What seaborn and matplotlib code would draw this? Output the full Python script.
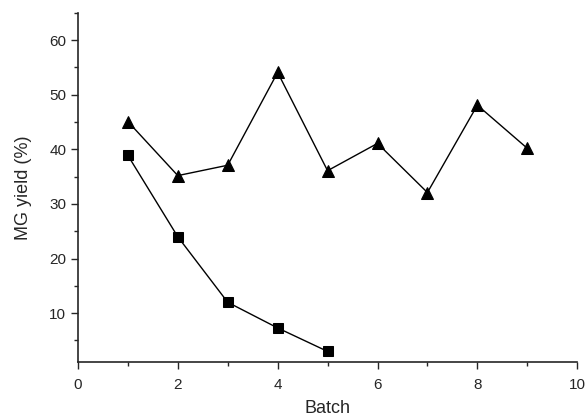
import numpy as np
import pandas as pd
import matplotlib
matplotlib.use('Agg')
import matplotlib.pyplot as plt
from matplotlib.ticker import MultipleLocator
import seaborn as sns

# data
batch_tri = [1, 2, 3, 4, 5, 6, 7, 8, 9]
yield_tri = [45.1, 35.2, 37.1, 54.1, 36.1, 41.1, 32.1, 48.1, 40.2]
batch_sq = [1, 2, 3, 4, 5]
yield_sq = [38.9, 24.0, 12.0, 7.3, 3.0]

sns.set_style('ticks')
plt.rcParams['font.family'] = ['Liberation Sans', 'DejaVu Sans']

fig = plt.figure(figsize=(5.86, 4.16), dpi=100)
ax = fig.add_axes([0.133, 0.129, 0.852, 0.84])

df_tri = pd.DataFrame({'Batch': batch_tri, 'yield': yield_tri})
df_sq = pd.DataFrame({'Batch': batch_sq, 'yield': yield_sq})

sns.lineplot(data=df_tri, x='Batch', y='yield', ax=ax, color='black', lw=1,
             marker='^', markersize=8, markeredgecolor='black')
sns.lineplot(data=df_sq, x='Batch', y='yield', ax=ax, color='black', lw=1,
             marker='s', markersize=6.5, markeredgecolor='black')

ax.set_xlim(0, 10)
ax.set_ylim(1, 65)
ax.xaxis.set_major_locator(MultipleLocator(2))
ax.xaxis.set_minor_locator(MultipleLocator(1))
ax.yaxis.set_major_locator(MultipleLocator(10))
ax.yaxis.set_minor_locator(MultipleLocator(5))
ax.set_yticks([10, 20, 30, 40, 50, 60])

for s in ['top', 'right']:
    ax.spines[s].set_visible(False)
for s in ['left', 'bottom']:
    ax.spines[s].set_linewidth(1.2)
ax.tick_params(which='major', length=5, width=1, labelsize=11, direction='out')
ax.tick_params(which='minor', length=3, width=1, direction='out')
ax.tick_params(axis='x', which='major', pad=6)

ax.set_xlabel('Batch', fontsize=13, labelpad=6)
ax.set_ylabel('MG yield (%)', fontsize=13, labelpad=12)

fig.savefig('out.png', dpi=100)
